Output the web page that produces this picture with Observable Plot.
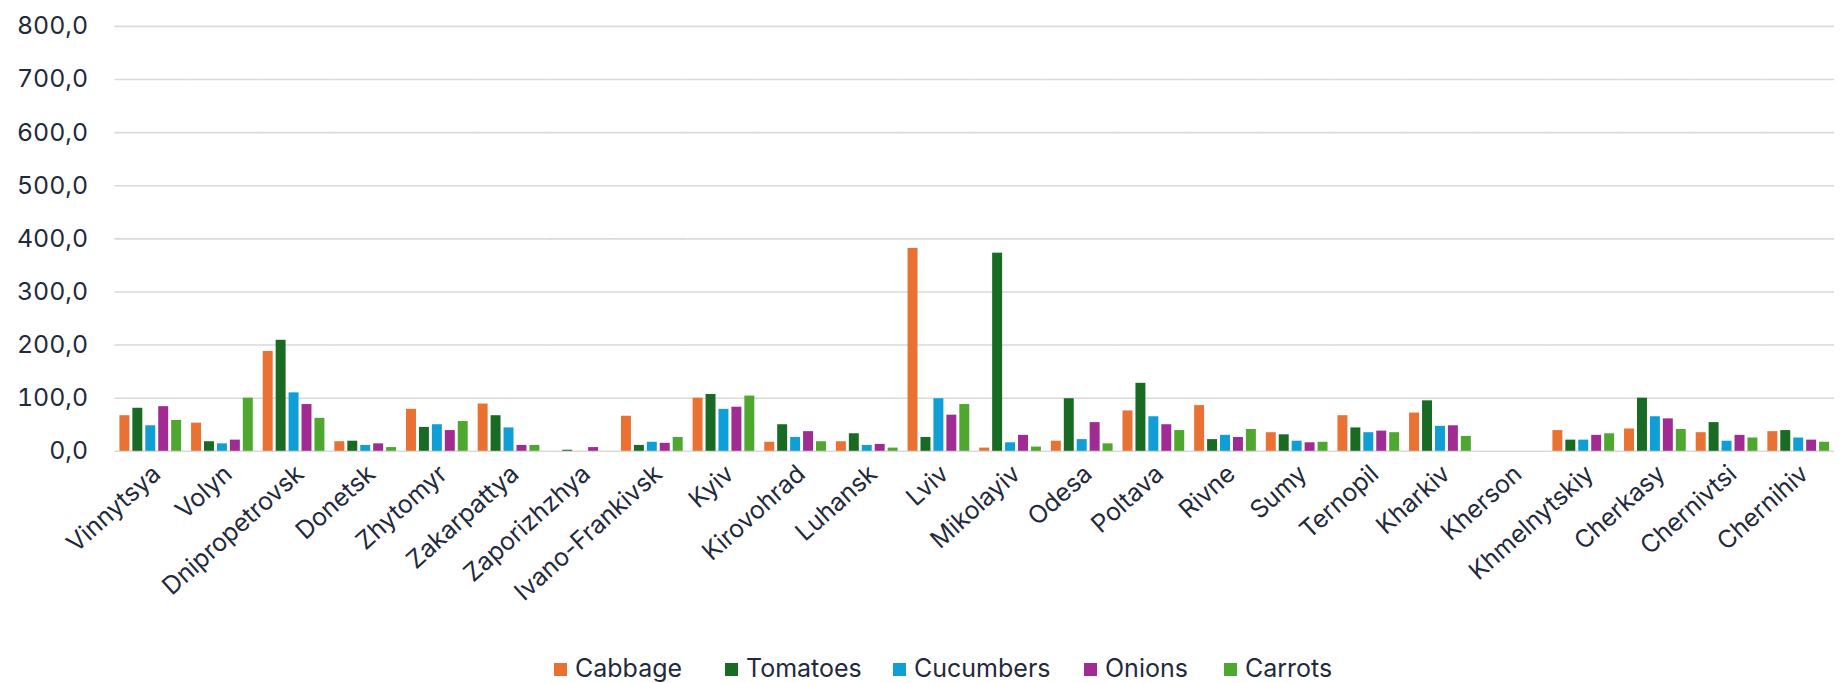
<!DOCTYPE html>
<html>
<head>
<meta charset="utf-8">
<script src="https://cdn.jsdelivr.net/npm/d3@7"></script>
<script src="https://cdn.jsdelivr.net/npm/@observablehq/plot@0.6"></script>
<style>
  html, body { margin: 0; padding: 0; background: #fff; overflow: hidden; }
  #chart svg { display: block; }
  .legend { position: relative; height: 38px; margin-top: 7px; font-family: Inter, "Liberation Sans", Arial, sans-serif; font-size: 25px; color: #1f2a3c; }
  .legend .item { position: absolute; top: 0; height: 38px; display: flex; align-items: center; white-space: nowrap; }
  .legend .sw { width: 13px; height: 13px; margin-right: 8px; margin-top: 4px; }
</style>
</head>
<body>
<div id="chart"></div>
<div class="legend" id="legend"></div>
<script>
const regions = ["Vinnytsya","Volyn","Dnipropetrovsk","Donetsk","Zhytomyr","Zakarpattya","Zaporizhzhya","Ivano-Frankivsk","Kyiv","Kirovohrad","Luhansk","Lviv","Mikolayiv","Odesa","Poltava","Rivne","Sumy","Ternopil","Kharkiv","Kherson","Khmelnytskiy","Cherkasy","Chernivtsi","Chernihiv"];
const vegetables = ["Cabbage","Tomatoes","Cucumbers","Onions","Carrots"];
const colors = ["#E97132","#196B24","#0F9ED5","#A02B93","#4EA72E"];
const cabbage   = [67, 53, 188, 18, 79, 89, 0, 66, 100, 17, 18, 382, 6, 19, 76, 86, 35, 67, 72, 0, 39, 42, 35, 37];
const tomatoes  = [81, 18, 209, 19, 45, 67, 2, 11, 107, 50, 33, 26, 373, 99, 128, 22, 31, 44, 95, 0, 21, 100, 54, 39];
const cucumbers = [48, 14, 110, 11, 50, 44, 0, 17, 79, 26, 11, 99, 16, 22, 65, 30, 19, 35, 47, 0, 21, 65, 19, 25];
const onions    = [84, 21, 88, 14, 39, 11, 7, 15, 83, 37, 13, 68, 30, 54, 50, 26, 16, 38, 48, 0, 30, 61, 30, 21];
const carrots   = [58, 100, 62, 7, 56, 11, 0, 26, 104, 18, 6, 88, 8, 14, 39, 41, 17, 35, 28, 0, 33, 41, 25, 17];
const yTicks = [0, 100, 200, 300, 400, 500, 600, 700, 800];

const series = [cabbage, tomatoes, cucumbers, onions, carrots];
const data = regions.flatMap((r, i) => vegetables.map((v, j) => ({region: r, veg: v, value: series[j][i]})));

const chart = Plot.plot({
  width: 1850,
  height: 645,
  marginLeft: 107,
  marginRight: 0,
  marginTop: 26,
  marginBottom: 192,
  style: {fontFamily: "Inter, Liberation Sans, Arial, sans-serif", fontSize: "25px", color: "#1f2a3c", background: "#fff"},
  fx: {domain: regions, padding: 0, label: null},
  x: {domain: vegetables, axis: null, paddingInner: 0.22, paddingOuter: 0.3},
  y: {domain: [0, 800], ticks: yTicks, tickFormat: d => d.toFixed(1).replace(".", ","), tickSize: 0, tickPadding: 27, label: null},
  color: {domain: vegetables, range: colors},
  marks: [
    Plot.gridY(yTicks, {stroke: "#d9d9d9", strokeOpacity: 1, strokeWidth: 1.6}),
    Plot.barY(data, {fx: "region", x: "veg", y: "value", fill: "veg"}),
    Plot.axisFx({anchor: "bottom", tickRotate: -42, tickSize: 0, tickPadding: 14, label: null, dx: 6, dy: 5})
  ]
});
document.getElementById("chart").appendChild(chart);

const legendLeft = [554, 725, 893, 1084, 1224];
const legend = document.getElementById("legend");
vegetables.forEach((v, i) => {
  const item = document.createElement("div");
  item.className = "item";
  item.style.left = legendLeft[i] + "px";
  const sw = document.createElement("span");
  sw.className = "sw";
  sw.style.background = colors[i];
  const t = document.createElement("span");
  t.textContent = v;
  item.appendChild(sw);
  item.appendChild(t);
  legend.appendChild(item);
});
</script>
</body>
</html>
